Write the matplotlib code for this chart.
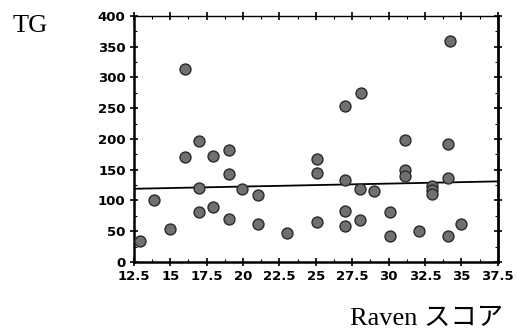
import matplotlib
matplotlib.use("Agg")
import matplotlib.pyplot as plt
from matplotlib.ticker import MultipleLocator

# Raven score vs TG
raven = [12.9, 13.9, 15.0, 16.0, 16.0, 17.0, 17.0, 17.0, 17.9, 17.9,
         19.0, 19.0, 19.0, 19.9, 21.0, 21.0, 23.0,
         25.1, 25.1, 25.1, 27.0, 27.0, 27.0, 27.0, 28.0, 28.0, 28.1, 29.0,
         30.1, 30.1, 31.1, 31.1, 31.1, 32.1, 33.0, 33.0, 33.0,
         34.1, 34.1, 34.1, 34.2, 35.0]
tg = [34, 100, 54, 171, 313, 121, 81, 197, 173, 90,
      182, 143, 70, 118, 109, 61, 47,
      168, 145, 65, 133, 83, 58, 254, 118, 68, 274, 115,
      82, 42, 150, 140, 198, 51, 124, 117, 110,
      192, 136, 42, 359, 61]

# regression line ends
fit_x = [12.5, 37.5]
fit_y = [119, 131]

xticks = [12.5, 15, 17.5, 20, 22.5, 25, 27.5, 30, 32.5, 35, 37.5]
xticklabels = ["12.5", "15", "17.5", "20", "22.5", "25", "27.5", "30", "32.5", "35", "37.5"]
yticks = [0, 50, 100, 150, 200, 250, 300, 350, 400]

fig = plt.figure(figsize=(5.17, 3.31), dpi=100)
ax = fig.add_axes([0.259, 0.2085, 0.704, 0.7435])

ax.plot(fit_x, fit_y, color="black", lw=1.3, zorder=2)
ax.scatter(raven, tg, s=62, facecolor="#707070", edgecolor="#2a2a2a",
           linewidths=1.0, zorder=3)

ax.set_xlim(12.5, 37.5)
ax.set_ylim(0, 400)
ax.set_xticks(xticks)
ax.set_xticklabels(xticklabels)
ax.set_yticks(yticks)
ax.xaxis.set_minor_locator(MultipleLocator(1.25))
ax.yaxis.set_minor_locator(MultipleLocator(25))

for lab in ax.get_xticklabels() + ax.get_yticklabels():
    lab.set_fontfamily("DejaVu Sans")
    lab.set_fontweight("bold")
    lab.set_fontsize(9.5)

ax.tick_params(axis="both", which="major", direction="inout", length=6, width=1.2,
               top=True, right=True, pad=3)
ax.tick_params(axis="both", which="minor", direction="in", length=2, width=0.8,
               top=True, right=True)

for side in ["left", "bottom"]:
    ax.spines[side].set_linewidth(1.8)
ax.spines["right"].set_linewidth(2.0)
ax.spines["top"].set_linewidth(1.0)

fig.text(0.058, 0.922, "TG", family="Liberation Serif", fontsize=19,
         ha="center", va="center")
fig.text(0.826, 0.036, "Raven スコア", family=["Liberation Serif", "Noto Sans CJK JP"],
         fontsize=19, ha="center", va="center")

fig.savefig("out.png", dpi=100)
